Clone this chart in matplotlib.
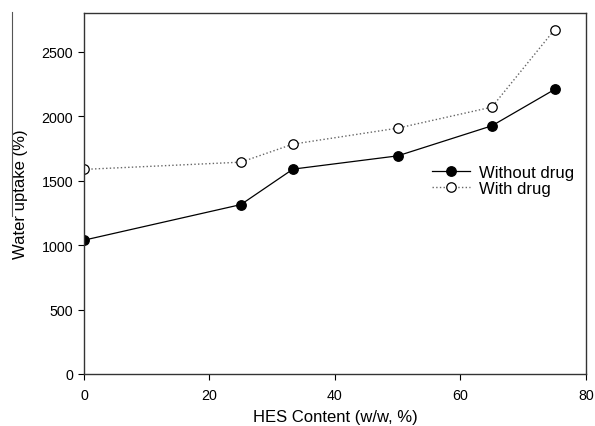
import numpy as np
import matplotlib
matplotlib.use("Agg")
import matplotlib.pyplot as plt
from matplotlib.lines import Line2D

plt.rcParams['font.family'] = ['Liberation Sans', 'DejaVu Sans']

# datos
hes = [0, 25, 33.3, 50, 65, 75]
sin_farmaco = [1038, 1314, 1589, 1692, 1925, 2207]
con_farmaco = [1587, 1643, 1783, 1907, 2070, 2671]

x_ticks = [0, 20, 40, 60, 80]
y_ticks = [0, 500, 1000, 1500, 2000, 2500]

fig = plt.figure(figsize=(5.95, 4.27), dpi=100)
ax = fig.add_axes([0.1412, 0.1218, 0.8436, 0.8454])

ax.plot(hes, sin_farmaco, '-', color='black', lw=0.9,
        marker='o', ms=6.8, mfc='black', mec='black', label='Without drug')
ax.plot(hes, con_farmaco, ':', color='#666666', lw=1.0,
        marker='o', ms=6.8, mfc='white', mec='black', mew=0.9, label='With drug')

ax.set_xlim(0, 80)
ax.set_ylim(0, 2800)
ax.set_xticks(x_ticks)
ax.set_yticks(y_ticks)
ax.tick_params(direction='out', length=4.3, width=0.8, labelsize=10.3)
ax.tick_params(axis='y', pad=3.5)
ax.tick_params(axis='x', pad=6)
for s in ax.spines.values():
    s.set_linewidth(1.0)
    s.set_color('#333333')

ax.set_xlabel('HES Content (w/w, %)', fontsize=12, labelpad=5)
ax.set_ylabel('Water uptake (%)', fontsize=12, labelpad=10)

ax.legend(loc='upper left', bbox_to_anchor=(0.693, 0.58), frameon=False,
          fontsize=12, handlelength=2.3, handletextpad=0.5, labelspacing=0.08,
          borderpad=0, borderaxespad=0)

# linea suelta del original a la izquierda
fig.add_artist(Line2D([12 / 595, 12 / 595], [1 - 13 / 427, 1 - 217 / 427],
                      color='#555555', lw=0.8, transform=fig.transFigure))

fig.savefig('out.png', dpi=100)
